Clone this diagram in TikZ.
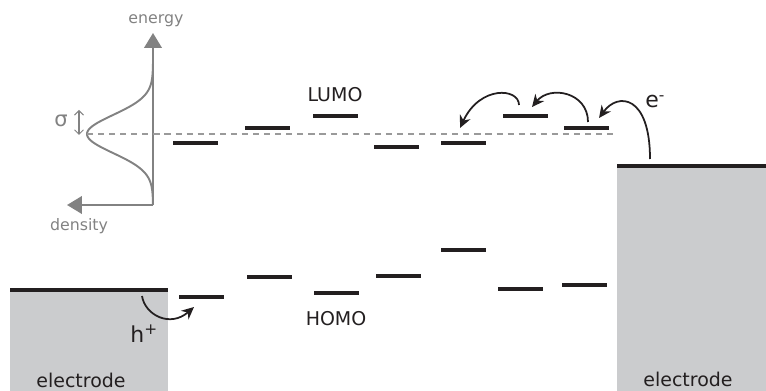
\documentclass[tikz,border=0pt]{standalone}
\usepackage{fontspec}
\setmainfont{DejaVu Sans}
\usepackage{xcolor}
\usepackage{tikz}
\usetikzlibrary{arrows.meta,positioning}
\definecolor{ink}{HTML}{231F20}
\definecolor{axisgray}{HTML}{828282}
\definecolor{dashgray}{HTML}{9A9A9A}
\definecolor{metal}{HTML}{CBCCCE}

\begin{document}
\begin{tikzpicture}[
    x=0.02cm, y=-0.02cm,
    level/.style={rectangle, fill=ink, minimum width=0.9cm, minimum height=2pt, inner sep=0pt, outer sep=0pt},
    metalbox/.style={rectangle, fill=metal, inner sep=0pt, outer sep=0pt, anchor=north west},
    edge/.style={ink, line width=2.2pt},
    axis/.style={axisgray, line width=1.1pt, -{Triangle[length=8.5pt, width=10pt]}},
    hop/.style={ink, line width=1pt, -{Stealth[length=7pt, width=6.5pt]}},
    txt/.style={font=\fontsize{10.8}{13}\selectfont, text=ink, anchor=base, inner sep=0pt},
    gtxt/.style={font=\fontsize{9}{11}\selectfont, text=axisgray, anchor=base, inner sep=0pt},
    carrier/.style={font=\fontsize{12.5}{15}\selectfont, text=ink, anchor=base west, inner sep=0pt}
]
\useasboundingbox (0,0) rectangle (766,391);

% Electrodes
\node[metalbox, minimum width=3.16cm, minimum height=2.02cm] (leftel) at (10,290) {};
\node[metalbox, minimum width=2.98cm, minimum height=4.5cm] (rightel) at (617,166) {};
\draw[edge] (leftel.north west) -- (leftel.north east);
\draw[edge] (rightel.north west) -- (rightel.north east);
\node[txt] (leftlab) at (81,387) {electrode};
\node[txt] (rightlab) at (688,386) {electrode};

% Density of states
\coordinate (origin) at (153,205);
\coordinate (etop) at (153,33);
\coordinate (dleft) at (67,205);
\draw[axis] (origin) -- (etop);
\draw[axis] (origin) -- (dleft);
\draw[axisgray, line width=1.1pt] plot[domain=-70:70, samples=80, smooth] ({153-66*exp(-((\x)*(\x))/722)}, {134+\x});
\node[gtxt] (energy) at (156,24) {energy};
\node[gtxt] (density) at (79,231) {density};

% Width of the distribution
\coordinate (sigtop) at (79,110);
\coordinate (sigbot) at (79,135);
\draw[axisgray, line width=0.6pt, {Straight Barb[length=2.5pt]}-{Straight Barb[length=2.5pt]}] (sigtop) -- (sigbot);
\node[gtxt, font=\fontsize{12}{14}\selectfont] (sigma) at (61,127) {σ};

% Mean level
\coordinate (peak) at (87,134);
\coordinate (dashend) at (613,134);
\draw[dashgray, line width=0.8pt, dash pattern=on 3.5pt off 2.8pt] (peak) -- (dashend);

% LUMO levels
\node[level] (lumo1) at (195.5,143) {};
\node[level] (lumo2) at (267.5,128) {};
\node[level] (lumo3) at (335,116) {};
\node[level] (lumo4) at (396.5,147) {};
\node[level] (lumo5) at (463.5,143) {};
\node[level] (lumo6) at (525.5,116) {};
\node[level] (lumo7) at (586.5,128) {};
\node[txt] (lumolab) at (335,102) {LUMO};

% HOMO levels
\node[level] (homo1) at (201.5,297) {};
\node[level] (homo2) at (269.5,277) {};
\node[level] (homo3) at (336.5,293) {};
\node[level] (homo4) at (398.5,276) {};
\node[level] (homo5) at (463.5,250) {};
\node[level] (homo6) at (520.5,289) {};
\node[level] (homo7) at (584.5,285) {};
\node[txt] (homolab) at (336,325) {HOMO};

% Hopping
\coordinate (jump0) at (650,159);
\coordinate (land1) at (599,118);
\coordinate (jump1) at (588,122);
\coordinate (land2) at (532,107);
\coordinate (jump2) at (519,105);
\coordinate (land3) at (460,128);
\coordinate (hjump) at (142,296);
\coordinate (hland) at (194,307);
\draw[hop] (jump0) .. controls (650,95) and (618,92) .. (land1);
\draw[hop] (jump1) .. controls (588,92) and (550,85) .. (land2);
\draw[hop] (jump2) .. controls (519,88) and (480,85) .. (land3);
\draw[hop] (hjump) .. controls (145,315) and (170,328) .. (hland);

% Carriers
\node[carrier] (elec) at (645,108) {e\textsuperscript{-}};
\node[carrier] (hole) at (130,342) {h\textsuperscript{+}};
\end{tikzpicture}
\end{document}
